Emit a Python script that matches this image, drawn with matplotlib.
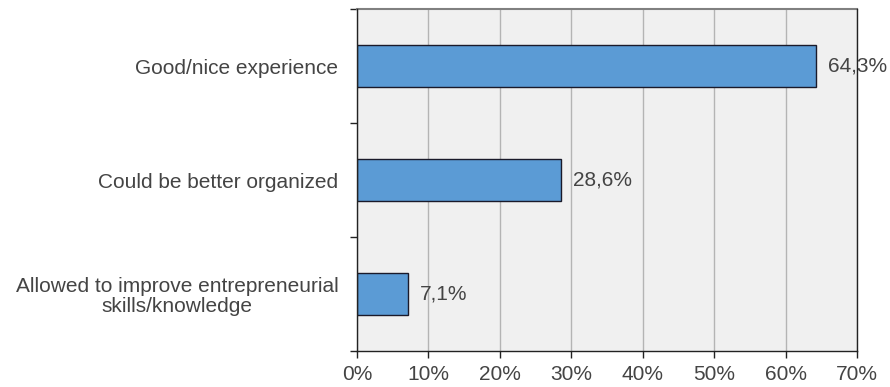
import numpy as np
import matplotlib.pyplot as plt
from matplotlib.ticker import MultipleLocator, FuncFormatter

plt.rcParams['font.family'] = ['Liberation Sans', 'DejaVu Sans']

categories = ['Good/nice experience',
              'Could be better organized',
              'Allowed to improve entrepreneurial\nskills/knowledge']
shares = [64.3, 28.6, 7.1]

txt = '#444444'
fig = plt.figure(figsize=(8.9, 3.87), dpi=100)
ax = fig.add_axes([357 / 890, 1 - 351 / 387, 500 / 890, 342 / 387])
ax.set_facecolor('#f0f0f0')

y = np.arange(len(categories))
ax.barh(y, shares, height=0.36, color='#5b9bd5', edgecolor='#1a1a2a',
        linewidth=1.0, zorder=3)
for yi, v in zip(y, shares):
    ax.text(v + 1.7, yi, f'{v:.1f}%'.replace('.', ','), va='center', ha='left',
            fontsize=15, color=txt, zorder=4)

ax.set_xlim(0, 70)
ax.set_ylim(len(categories) - 0.5, -0.5)
ax.xaxis.set_major_locator(MultipleLocator(10))
ax.xaxis.set_major_formatter(FuncFormatter(lambda v, p: f'{v:.0f}%'))
ax.grid(axis='x', color='#b4b4b4', linewidth=1.0, zorder=1)

# category separators as ticks on the left spine
ax.set_yticks(np.arange(len(categories) + 1) - 0.5)
ax.set_yticklabels([])
ax.set_yticks(y, minor=True)
ax.set_yticklabels(categories, minor=True, fontsize=15, color=txt,
                   multialignment='center', linespacing=1.1)
ax.tick_params(axis='y', which='major', length=5, width=1, color='#222222')
ax.tick_params(axis='y', which='minor', length=0, pad=13.5)
ax.tick_params(axis='x', length=5, width=1, color='#222222', labelsize=15,
               labelcolor=txt, pad=5)

for s in ['left', 'bottom', 'right']:
    ax.spines[s].set_color('#222222')
    ax.spines[s].set_linewidth(1.0)
    ax.spines[s].set_zorder(5)
ax.spines['top'].set_color('#808080')
ax.spines['top'].set_linewidth(1.5)

fig.savefig('out.png', dpi=100)
